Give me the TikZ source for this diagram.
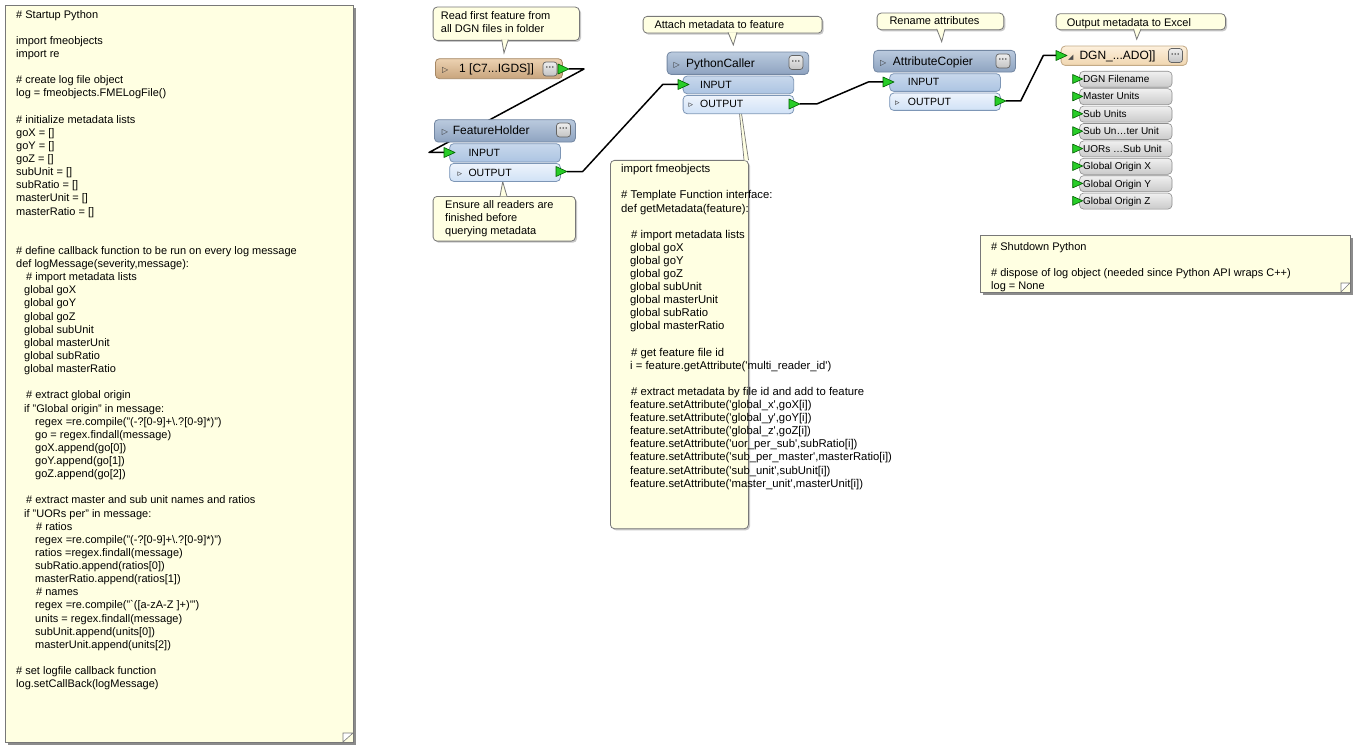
\documentclass[tikz,border=0pt]{standalone}
\usepackage{fontspec}
\setmainfont{Liberation Sans}
\newfontfamily\dv{DejaVu Sans}
\definecolor{nf}{RGB}{255,255,226}
\definecolor{nbc}{RGB}{120,120,120}
\definecolor{shdD}{RGB}{140,140,140}
\definecolor{shdL}{RGB}{200,200,200}
\definecolor{hdrT}{RGB}{186,202,222}
\definecolor{hdrBt}{RGB}{142,163,192}
\definecolor{hdrB}{RGB}{115,135,162}
\definecolor{inT}{RGB}{200,216,236}
\definecolor{inBt}{RGB}{172,196,226}
\definecolor{inB}{RGB}{125,150,182}
\definecolor{outT}{RGB}{238,244,252}
\definecolor{outBt}{RGB}{208,225,246}
\definecolor{rdT}{RGB}{236,210,178}
\definecolor{rdBt}{RGB}{200,164,124}
\definecolor{rdB}{RGB}{165,135,100}
\definecolor{wrT}{RGB}{253,240,220}
\definecolor{wrBt}{RGB}{240,214,176}
\definecolor{wrB}{RGB}{195,170,135}
\definecolor{atT}{RGB}{240,240,240}
\definecolor{atBt}{RGB}{202,202,202}
\definecolor{atB}{RGB}{140,140,140}
\definecolor{btT}{RGB}{238,238,238}
\definecolor{btBt}{RGB}{195,195,195}
\definecolor{btB}{RGB}{100,100,100}
\definecolor{pF}{RGB}{40,205,40}
\definecolor{pB}{RGB}{0,95,0}
\newcommand\ind[1]{\hspace*{#1pt}}
\newcommand\sq{\textquotesingle}
\newcommand\fs{\rule{0pt}{9pt}}
\newcommand\tri{{\dv\fontsize{8}{8}\selectfont\color{black!80}▷}}
\newcommand\stri{{\dv\fontsize{9}{9}\selectfont\color{black!80}▹}}
\newcommand\wicon{{\dv\fontsize{7}{7}\selectfont\color{black!70}◢}}
\newcommand\pcrd[3]{\coordinate (#1b) at (#2,#3); \coordinate (#1t) at ({#2+11},#3);}
\newcommand\parw[2]{\filldraw[parr] (#1,{#2-5}) -- ({#1+11},#2) -- (#1,{#2+5}) -- cycle;}
\newcommand\tipbox[5]{%
  \fill[shdL, rounded corners=4pt] ({#2+2},{#3+2}) rectangle ({#4+2},{#5+2});
  \node[tipst, minimum width={#4-#2}, minimum height={#5-#3}] (#1) at (#2,#3) {};}
\newcommand\ptr[5]{% x1 x2 ybase tipx tipy
  \fill[nf] (#1,#3) -- (#4,#5) -- (#2,#3) -- cycle;
  \draw[nbc, line width=0.8pt] (#1,#3) -- (#4,#5) -- (#2,#3);}
\begin{document}
\begin{tikzpicture}[x=1pt,y=-1pt,
  notest/.style={draw=nbc, fill=nf, line width=0.8pt, inner sep=0, anchor=north west},
  tipst/.style={notest, rounded corners=4pt},
  ntext/.style={inner sep=0, anchor=north west, align=left, font=\fontsize{11}{13.13}\selectfont},
  ttext/.style={inner sep=0, anchor=base west, font=\fontsize{11}{12.7}\selectfont},
  htext/.style={inner sep=0, anchor=base west, font=\fontsize{12}{12}\selectfont},
  ptext/.style={inner sep=0, anchor=base west, font=\fontsize{10.5}{10.5}\selectfont},
  rtext/.style={inner sep=0, anchor=base west, font=\fontsize{10}{10}\selectfont},
  boxbase/.style={inner sep=0, anchor=north west, line width=0.8pt, rounded corners=4pt},
  hdr/.style={boxbase, draw=hdrB, top color=hdrT, bottom color=hdrBt},
  inbox/.style={boxbase, draw=inB, top color=inT, bottom color=inBt},
  outbox/.style={boxbase, draw=inB, top color=outT, bottom color=outBt},
  rdr/.style={boxbase, draw=rdB, top color=rdT, bottom color=rdBt},
  wtr/.style={boxbase, draw=wrB, top color=wrT, bottom color=wrBt},
  attrbox/.style={boxbase, draw=atB, top color=atT, bottom color=atBt, line width=0.6pt},
  btn/.style={draw=btB, top color=btT, bottom color=btBt, rounded corners=3pt, minimum width=14pt, minimum height=14pt, inner sep=0, line width=0.7pt, font=\fontsize{9}{9}\selectfont\bfseries, text=black!75},
  parr/.style={fill=pF, draw=pB, line width=0.6pt, line join=round},
  conn/.style={line width=1.5pt, black, line join=round},
  foldst/.style={draw=nbc, line width=0.6pt, fill=white}
]
\fill[white] (0,0) rectangle (1360,749);
\useasboundingbox (0,0) rectangle (1360,749);

% ---------- Startup note ----------
\fill[shdD] (8,8) rectangle (356,745);
\node[notest, minimum width=348, minimum height=737] (startup) at (5,5) {};
\filldraw[foldst] (343,742) -- (343,733) -- (353,733) -- cycle;
\node[ntext] (startupT) at (16,8.9) {\fs\# Startup Python\\
~\\
import fmeobjects\\
import re\\
~\\
\# create log file object\\
log = fmeobjects.FMELogFile()\\
~\\
\# initialize metadata lists\\
goX = []\\
goY = []\\
goZ = []\\
subUnit = []\\
subRatio = []\\
masterUnit = []\\
masterRatio = []\\
~\\
~\\
\# define callback function to be run on every log message\\
def logMessage(severity,message):\\
\ind{10}\# import metadata lists\\
\ind{8}global goX\\
\ind{8}global goY\\
\ind{8}global goZ\\
\ind{8}global subUnit\\
\ind{8}global masterUnit\\
\ind{8}global subRatio\\
\ind{8}global masterRatio\\
~\\
\ind{10}\# extract global origin\\
\ind{8}if "Global origin" in message:\\
\ind{19}regex =re.compile("(-?[0-9]+\textbackslash.?[0-9]*)")\\
\ind{19}go = regex.findall(message)\\
\ind{19}goX.append(go[0])\\
\ind{19}goY.append(go[1])\\
\ind{19}goZ.append(go[2])\\
~\\
\ind{10}\# extract master and sub unit names and ratios\\
\ind{8}if "UORs per" in message:\\
\ind{20}\# ratios\\
\ind{19}regex =re.compile("(-?[0-9]+\textbackslash.?[0-9]*)")\\
\ind{19}ratios =regex.findall(message)\\
\ind{19}subRatio.append(ratios[0])\\
\ind{19}masterRatio.append(ratios[1])\\
\ind{20}\# names\\
\ind{19}regex =re.compile("\textasciigrave([a-zA-Z ]+)\sq")\\
\ind{19}units = regex.findall(message)\\
\ind{19}subUnit.append(units[0])\\
\ind{19}masterUnit.append(units[2])\\
~\\
\# set logfile callback function\\
log.setCallBack(logMessage)};

% ---------- Shutdown note ----------
\fill[shdD] (983,238) rectangle (1353,295);
\node[notest, minimum width=370, minimum height=57] (shutdown) at (980,235) {};
\filldraw[foldst] (1341,292) -- (1341,283) -- (1350,283) -- cycle;
\node[ntext] (shutdownT) at (991,241) {\fs\# Shutdown Python\\
~\\
\# dispose of log object (needed since Python API wraps C++)\\
log = None};

% ---------- port coordinates ----------
\pcrd{rdo}{558}{69}
\pcrd{fhi}{444}{152.5}
\pcrd{fho}{556}{171.5}
\pcrd{pci}{678}{84.5}
\pcrd{pco}{789}{104}
\pcrd{aci}{883}{82}
\pcrd{aco}{995}{101}
\pcrd{wri}{1056}{55.5}

% connector behind FeatureHolder
\draw[conn] (rdot) -- (584,69) -- (429,152.5) -- (fhib);

% ---------- tooltips ----------
\tipbox{tipRead}{432.7}{6.7}{579}{40}
\ptr{501.7}{508.3}{39.6}{504}{53}
\node[ntext, font=\fontsize{11}{12.7}\selectfont] (tipReadT) at (440.7,10.6) {\fs Read first feature from\\all DGN files in folder};

\tipbox{tipEnsure}{432.7}{196}{575}{240.7}
\ptr{500}{507}{196.4}{502.7}{181.7}
\node[ntext, font=\fontsize{11}{13}\selectfont] (tipEnsureT) at (445,199) {\fs Ensure all readers are\\finished before\\querying metadata};

\tipbox{tipAttach}{642.7}{16}{821.7}{32.7}
\ptr{728}{737}{32.3}{733.3}{45}
\node[ttext] (tipAttachT) at (654.3,29) {Attach metadata to feature};

\tipbox{tipRename}{876.7}{12.7}{1003.3}{29.3}
\ptr{936.7}{945}{28.9}{941.7}{41.7}
\node[ttext] (tipRenameT) at (889.3,25) {Rename attributes};

\tipbox{tipOut}{1055.7}{13.3}{1225}{29.3}
\ptr{1133.5}{1141}{28.9}{1136.7}{39.3}
\node[ttext] (tipOutT) at (1066.7,26.7) {Output metadata to Excel};

% ---------- PythonCaller note ----------
\tipbox{pcnote}{610}{160}{748}{528.3}
\fill[nf] (739.5,113.5) -- (741.5,113.5) -- (749,160.4) -- (744,160.4) -- cycle;
\draw[nbc, line width=0.7pt] (739.5,113.5) -- (744,160) (741.5,113.5) -- (748.5,160);
\node[ntext, font=\fontsize{11.3}{13.1}\selectfont] (pcnoteT) at (621,163.5) {\fs import fmeobjects\\
~\\
\# Template Function interface:\\
def getMetadata(feature):\\
~\\
\ind{10}\# import metadata lists\\
\ind{9}global goX\\
\ind{9}global goY\\
\ind{9}global goZ\\
\ind{9}global subUnit\\
\ind{9}global masterUnit\\
\ind{9}global subRatio\\
\ind{9}global masterRatio\\
~\\
\ind{10}\# get feature file id\\
\ind{9}i = feature.getAttribute(\sq multi\_reader\_id\sq)\\
~\\
\ind{10}\# extract metadata by file id and add to feature\\
\ind{9}feature.setAttribute(\sq global\_x\sq,goX[i])\\
\ind{9}feature.setAttribute(\sq global\_y\sq,goY[i])\\
\ind{9}feature.setAttribute(\sq global\_z\sq,goZ[i])\\
\ind{9}feature.setAttribute(\sq uor\_per\_sub\sq,subRatio[i])\\
\ind{9}feature.setAttribute(\sq sub\_per\_master\sq,masterRatio[i])\\
\ind{9}feature.setAttribute(\sq sub\_unit\sq,subUnit[i])\\
\ind{9}feature.setAttribute(\sq master\_unit\sq,masterUnit[i])};

% ---------- Reader ----------
\node[rdr, minimum width=127, minimum height=20] (reader) at (435,58.3) {};
\node[htext] (readerT) at (442,72.6) {\makebox[17pt][l]{\tri}1 [C7...IGDS]]};
\node[btn] (readerB) at (550,69) {···};

% ---------- FeatureHolder ----------
\node[hdr, minimum width=141, minimum height=22.4] (fh) at (434,119.3) {};
\node[htext] (fhT) at (441.7,134.8) {\makebox[11pt][l]{\tri}FeatureHolder};
\node[btn] (fhB) at (563.5,130) {···};
\node[inbox, minimum width=110.7, minimum height=18.4] (fhIn) at (449.3,143.3) {};
\node[ptext] (fhInT) at (468.3,156.3) {INPUT};
\node[outbox, minimum width=110.7, minimum height=18] (fhOut) at (449.3,163) {};
\node[ptext] (fhOutT) at (457.3,176) {\makebox[11pt][l]{\stri}OUTPUT};

% ---------- PythonCaller ----------
\node[hdr, minimum width=141.6, minimum height=22.3] (pc) at (666.7,51.7) {};
\node[htext] (pcT) at (673.3,67.1) {\makebox[12.7pt][l]{\tri}PythonCaller};
\node[btn] (pcB) at (796,62.5) {···};
\node[inbox, minimum width=110.6, minimum height=17.6] (pcIn) at (682.7,75.7) {};
\node[ptext] (pcInT) at (700,88.3) {INPUT};
\node[outbox, minimum width=110.6, minimum height=18.3] (pcOut) at (682.7,95) {};
\node[ptext] (pcOutT) at (688.3,108) {\makebox[11.7pt][l]{\stri}OUTPUT};

% ---------- AttributeCopier ----------
\node[hdr, minimum width=141.7, minimum height=21.7] (ac) at (873.3,50) {};
\node[htext] (acT) at (880,65.1) {\makebox[12.7pt][l]{\tri}AttributeCopier};
\node[btn] (acB) at (1003,61) {···};
\node[inbox, minimum width=110.7, minimum height=17.7] (acIn) at (889.3,73.3) {};
\node[ptext] (acInT) at (907.7,86) {INPUT};
\node[outbox, minimum width=110.7, minimum height=17.3] (acOut) at (889.3,92.7) {};
\node[ptext] (acOutT) at (895,105.1) {\makebox[12.7pt][l]{\stri}OUTPUT};

% ---------- Writer ----------
\node[wtr, minimum width=126, minimum height=19.3] (wr) at (1060.7,45.7) {};
\node[htext] (wrT) at (1068,59.6) {\makebox[11.3pt][l]{\wicon}DGN\_...ADO]]};
\node[btn] (wrB) at (1175.5,55.5) {···};
\foreach \lab [count=\k] in {DGN Filename,Master Units,Sub Units,Sub Un…ter Unit,UORs …Sub Unit,Global Origin X,Global Origin Y,Global Origin Z}{
  \pgfmathsetmacro\c{79+17.4*(\k-1)}
  \node[attrbox, minimum width=92.4, minimum height=16] (row\k) at (1079.3,{\c-8}) {};
  \node[rtext] (row\k T) at (1083,{\c+3.6}) {\lab};
  \filldraw[parr] (1072.7,{\c-4.5}) -- (1082.7,\c) -- (1072.7,{\c+4.5}) -- cycle;
}

% ---------- port arrows ----------
\parw{558}{69}
\parw{444}{152.5}
\parw{556}{171.5}
\parw{678}{84.5}
\parw{789}{104}
\parw{883}{82}
\parw{995}{101}
\parw{1056}{55.5}

% ---------- connectors ----------
\draw[conn] (fhot) -- (582.7,171.5) -- (662.7,84.5) -- (pcib);
\draw[conn] (pcot) -- (816.7,104) -- (868.3,82) -- (acib);
\draw[conn] (acot) -- (1020.7,101) -- (1043.3,55.5) -- (wrib);
\end{tikzpicture}
\end{document}
